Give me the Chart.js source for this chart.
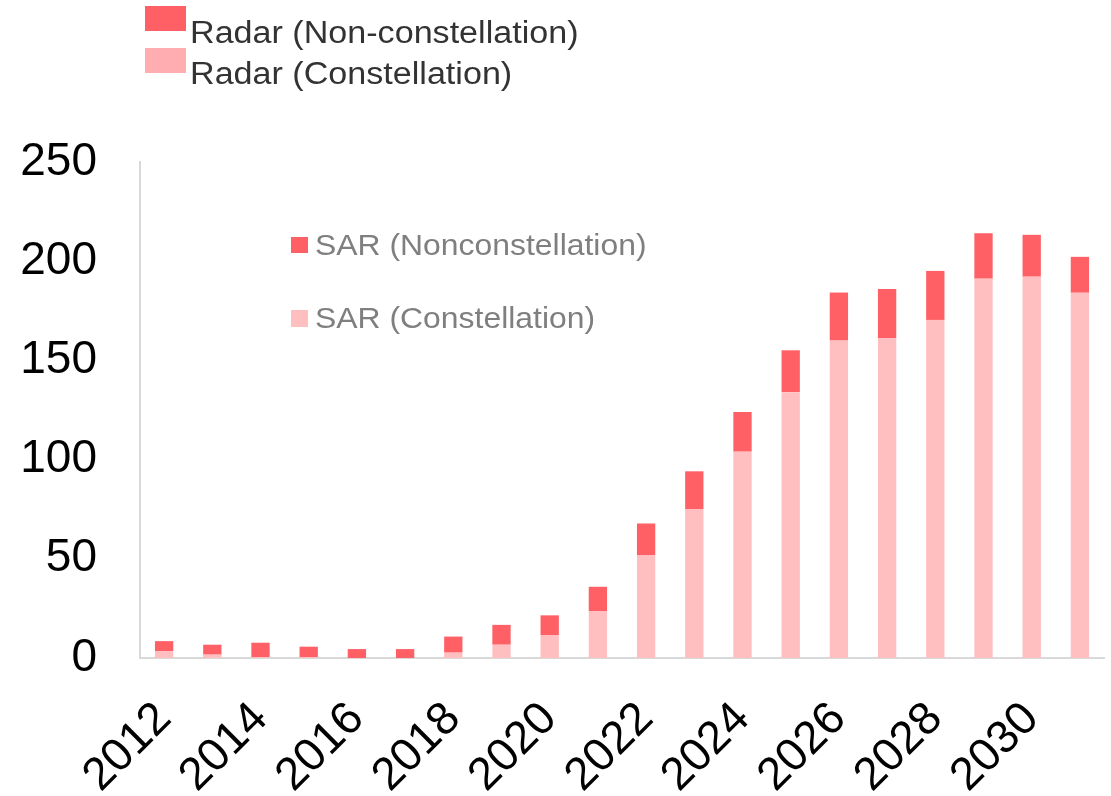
<!DOCTYPE html>
<html>
<head>
<meta charset="utf-8">
<style>
  html, body { margin: 0; padding: 0; background: #fff; }
  #wrap { width: 1111px; height: 796px; position: relative; }
</style>
<script src="https://cdn.jsdelivr.net/npm/chart.js"></script>
</head>
<body>
<div id="wrap"><canvas id="bar-chart" width="1111" height="796"></canvas></div>
<script>
// DADOS DO GRAFICO
const anos = ['2012', '2013', '2014', '2015', '2016', '2017', '2018', '2019', '2020', '2021',
  '2022', '2023', '2024', '2025', '2026', '2027', '2028', '2029', '2030', '2031'];

const constelacao = [3.5, 1.7, 0.5, 0.5, 0, 0, 2.7, 6.7, 11.6, 23.5,
  51.7, 74.9, 104, 134, 160, 161.3, 170.4, 191.2, 192.2, 184.1];

const naoConstelacao = [5.0, 5.0, 7.2, 5.2, 4.5, 4.5, 8.1, 10.0, 9.9, 12.4,
  16.1, 19.2, 20.0, 21.1, 24.2, 24.7, 24.7, 22.9, 21.1, 18.1];

const yTicks = [0, 50, 100, 150, 200, 250];

// LEGENDAS (A DE CIMA E A DE DENTRO DO GRAFICO)
const legendaTopo = ['Radar (Non-constellation)', 'Radar (Constellation)'];
const legendaInterna = ['SAR (Nonconstellation)', 'SAR (Constellation)'];

const corEscura = '#FF6066';
const corClara = '#FFBEC0';
const corClaraLegenda = '#FFADB0';

// TEXTO UM POUCO ESTICADO NA HORIZONTAL, COMO NO ORIGINAL
function textoEsticado(ctx, texto, x, y, sx) {
  ctx.save();
  ctx.translate(x, y);
  ctx.scale(sx, 1);
  ctx.fillText(texto, 0, 0);
  ctx.restore();
}

// PLUGIN PARA DESENHAR AS DUAS LEGENDAS
const legendasPlugin = {
  id: 'legendas',
  afterDraw(chart) {
    const ctx = chart.ctx;
    ctx.save();
    ctx.textBaseline = 'alphabetic';

    // legenda do topo
    ctx.font = '31px "Liberation Sans", Arial, sans-serif';
    ctx.fillStyle = corEscura;
    ctx.fillRect(145, 6, 41, 25);
    ctx.fillStyle = corClaraLegenda;
    ctx.fillRect(145, 48, 41, 25);
    ctx.fillStyle = '#333333';
    textoEsticado(ctx, legendaTopo[0], 190, 43, 1.1);
    textoEsticado(ctx, legendaTopo[1], 190, 84, 1.1);

    // legenda interna
    ctx.font = '29px "Liberation Sans", Arial, sans-serif';
    ctx.fillStyle = corEscura;
    ctx.fillRect(291, 237, 17, 16);
    ctx.fillStyle = corClara;
    ctx.fillRect(291, 310, 17, 17);
    ctx.fillStyle = '#7F7F7F';
    textoEsticado(ctx, legendaInterna[0], 315, 255, 1.1);
    textoEsticado(ctx, legendaInterna[1], 315, 328, 1.1);

    ctx.restore();
  }
};

const ctx = document.getElementById('bar-chart').getContext('2d');
new Chart(ctx, {
  type: 'bar',
  data: {
    labels: anos,
    datasets: [
      {
        label: legendaInterna[1],
        data: constelacao,
        backgroundColor: corClara,
        barPercentage: 0.38,
        categoryPercentage: 1
      },
      {
        label: legendaInterna[0],
        data: naoConstelacao,
        backgroundColor: corEscura,
        barPercentage: 0.38,
        categoryPercentage: 1
      }
    ]
  },
  options: {
    responsive: false,
    animation: false,
    layout: { padding: { top: 162, right: 7, left: 0, bottom: 0 } },
    plugins: {
      legend: { display: false },
      tooltip: { enabled: false }
    },
    scales: {
      x: {
        stacked: true,
        grid: { display: false, drawTicks: false },
        border: { color: '#D9D9D9', width: 2 },
        afterFit(scale) {
          scale.height = 138;
          scale.paddingRight = 0;
          scale.paddingLeft = 0;
        },
        ticks: {
          autoSkip: false,
          minRotation: 45,
          maxRotation: 45,
          padding: 34,
          color: '#000',
          font: { family: '"Liberation Sans", Arial, sans-serif', size: 46 },
          callback: function (val, i) { return i % 2 === 0 ? anos[i] : ''; }
        }
      },
      y: {
        stacked: true,
        min: 0,
        max: 250,
        grid: { display: false, drawTicks: false },
        border: { color: '#D9D9D9', width: 2 },
        afterFit(scale) { scale.width = 140; },
        afterBuildTicks(scale) { scale.ticks = yTicks.map(v => ({ value: v })); },
        ticks: {
          padding: 43,
          color: '#000',
          font: { family: '"Liberation Sans", Arial, sans-serif', size: 46 }
        }
      }
    }
  },
  plugins: [legendasPlugin]
});
</script>
</body>
</html>
